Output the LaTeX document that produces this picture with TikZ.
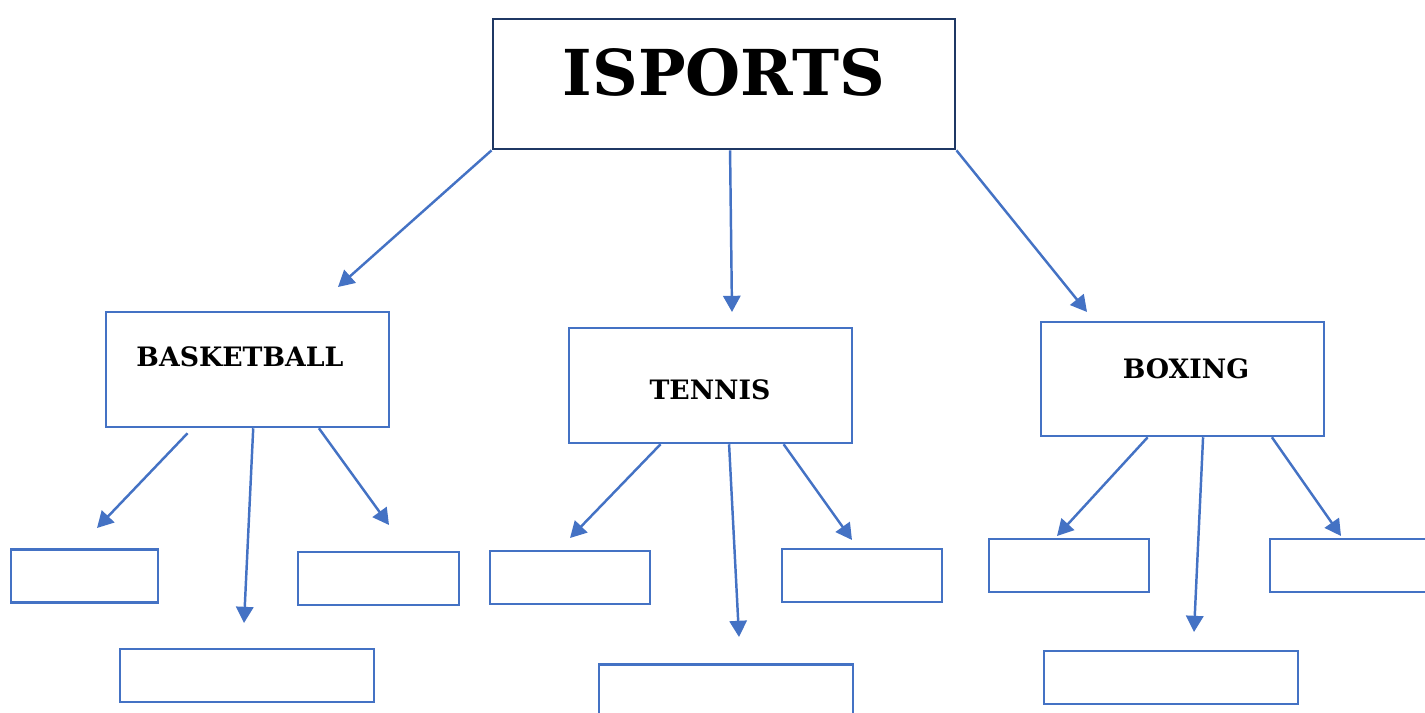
\documentclass[tikz,border=0pt]{standalone}
\usepackage{fontspec}
\setmainfont{DejaVu Serif}
\usetikzlibrary{arrows.meta,calc}
\definecolor{boxblue}{HTML}{4472C4}
\definecolor{navy}{HTML}{1F3864}
\tikzset{
  topbox/.style={draw=navy, line width=0.75pt, minimum width=4.62cm, minimum height=1.30cm},
  sportbox/.style={draw=boxblue, line width=0.7pt, minimum width=2.83cm, minimum height=1.15cm},
  subbox/.style={draw=boxblue, line width=0.7pt, minimum height=0.53cm},
  sportname/.style={font=\fontsize{7.6}{9}\selectfont\bfseries, inner sep=0pt},
  arr/.style={draw=boxblue, line width=0.7pt, -{Triangle[length=4.6pt,width=4.9pt]}}
}
\begin{document}
\begin{tikzpicture}[x=0.01cm, y=-0.01cm]
\useasboundingbox (0,0) rectangle (1425,713);

% main box
\node[topbox] (sports) at (724,84) {};
\node[inner sep=0pt, font=\fontsize{18}{20}\selectfont\bfseries] (sportsname) at (724,72) {ISPORTS};

% the three sports
\node[sportbox] (basket) at (247.5,369.5) {};
\node[sportbox] (tennis) at (710.5,385.5) {};
\node[sportbox, minimum height=1.14cm] (boxing) at (1182.5,379) {};
\node[sportname] (basketname) at (240,357) {BASKETBALL};
\node[sportname] (tennisname) at (710,390) {TENNIS};
\node[sportname] (boxingname) at (1186,369) {BOXING};

% empty boxes
\node[subbox, minimum width=1.47cm] (basketL) at (84.5,576) {};
\node[subbox, minimum width=2.54cm] (basketM) at (247,675.5) {};
\node[subbox, minimum width=1.61cm] (basketR) at (378.5,578.5) {};
\node[subbox, minimum width=1.60cm] (tennisL) at (570,577.5) {};
\node[subbox, minimum width=2.54cm] (tennisM) at (726,691) {};
\node[subbox, minimum width=1.60cm] (tennisR) at (862,575.5) {};
\node[subbox, minimum width=1.60cm] (boxingL) at (1069,565.5) {};
\node[subbox, minimum width=2.54cm] (boxingM) at (1171,677.5) {};
\node[subbox, minimum width=1.60cm] (boxingR) at (1350,565.5) {};

% arrow tips
\coordinate (basketTip) at (338,287);
\coordinate (tennisTip) at (732,312);
\coordinate (boxingTip) at (1087,312);
\coordinate (basketLtip) at (97,528);
\coordinate (basketMtip) at (244,623);
\coordinate (basketRtip) at (389,525);
\coordinate (tennisLtip) at (570,538);
\coordinate (tennisMtip) at (739,637);
\coordinate (tennisRtip) at (852,540);
\coordinate (boxingLtip) at (1057,536);
\coordinate (boxingMtip) at (1194,632);
\coordinate (boxingRtip) at (1341,536);

\draw[arr] (sports.south west) -- (basketTip);
\draw[arr] ($(sports.south west)!0.513!(sports.south east)$) -- (tennisTip);
\draw[arr] (sports.south east) -- (boxingTip);

\draw[arr] ($(basket.south west)!0.29!(basket.south east)$) ++(0,5) -- (basketLtip);
\draw[arr] ($(basket.south west)!0.52!(basket.south east)$) -- (basketMtip);
\draw[arr] ($(basket.south west)!0.75!(basket.south east)$) -- (basketRtip);

\draw[arr] ($(tennis.south west)!0.325!(tennis.south east)$) -- (tennisLtip);
\draw[arr] ($(tennis.south west)!0.565!(tennis.south east)$) -- (tennisMtip);
\draw[arr] ($(tennis.south west)!0.756!(tennis.south east)$) -- (tennisRtip);

\draw[arr] ($(boxing.south west)!0.378!(boxing.south east)$) -- (boxingLtip);
\draw[arr] ($(boxing.south west)!0.572!(boxing.south east)$) -- (boxingMtip);
\draw[arr] ($(boxing.south west)!0.813!(boxing.south east)$) -- (boxingRtip);
\end{tikzpicture}
\end{document}
